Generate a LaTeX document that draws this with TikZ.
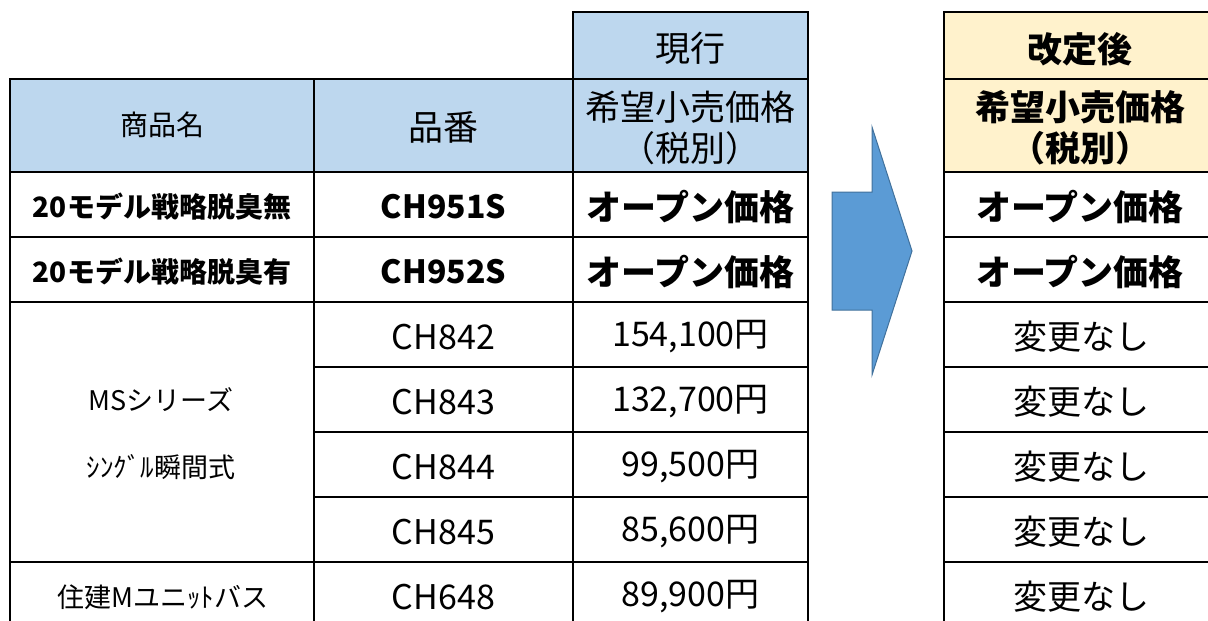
\documentclass[tikz,border=0pt]{standalone}
\usepackage{fontspec}
\setmainfont{Noto Sans CJK JP}
\definecolor{hdblue}{HTML}{BDD7EE}
\definecolor{hdyellow}{HTML}{FFF2CC}
\definecolor{arrowblue}{HTML}{5B9BD5}
\definecolor{arrowedge}{HTML}{41719C}
\tikzset{
  grid/.style={line width=2pt},
  txt/.style={inner sep=0pt},
  hdtxt/.style={txt, font=\fontsize{35}{40}\selectfont},
  valtxt/.style={txt, font=\fontsize{34}{40}\selectfont},
  nametxt/.style={txt, font=\fontsize{27}{32}\selectfont}
}
\begin{document}
\begin{tikzpicture}[x=1pt,y=-1pt]
    \useasboundingbox (0,0) rectangle (1208,621);
    \clip (0,0) rectangle (1208,621);

    % Header colours
    \fill[hdblue] (10,79) rectangle (808,172);
    \fill[hdblue] (573,12) rectangle (808,79);
    \fill[hdyellow] (944,12) rectangle (1240,172);

    % Left table lines
    \draw[grid] (573,12) rectangle (808,79);
    \draw[grid] (10,79) rectangle (808,650);
    \draw[grid] (314,79) -- (314,650);
    \draw[grid] (573,79) -- (573,650);
    \foreach \y in {172,237,302,562}
        \draw[grid] (10,\y) -- (808,\y);
    \foreach \y in {367,432,497}
        \draw[grid] (314,\y) -- (808,\y);

    % Right table lines
    \draw[grid] (944,12) rectangle (1240,650);
    \foreach \y in {79,172,237,302,367,432,497,562}
        \draw[grid] (944,\y) -- (1240,\y);

    % Arrow
    \draw[fill=arrowblue, draw=arrowedge, line width=1pt]
        (832,192) -- (872,192) -- (872,127) -- (912,251)
        -- (872,375) -- (872,310) -- (832,310) -- cycle;

    % Headers
    \node[hdtxt] (cur) at (690.5,48) {現行};
    \node[hdtxt, font=\fontsize{35}{40}\selectfont\bfseries] (new) at (1080,49) {改定後};
    \node[nametxt, font=\fontsize{28}{32}\selectfont] (hname) at (162,125) {商品名};
    \node[hdtxt] (hcode) at (443.5,127) {品番};
    \node[hdtxt] (hcur) at (690.5,107) {希望小売価格};
    \node[hdtxt] (hcurtax) at (690.5,148) {（税別）};
    \node[hdtxt, font=\fontsize{35}{40}\selectfont\bfseries] (hnew) at (1080,107) {希望小売価格};
    \node[hdtxt, font=\fontsize{35}{40}\selectfont\bfseries] (hnewtax) at (1080,148) {（税別）};

    % Open price rows
    \node[nametxt, font=\fontsize{28}{32}\selectfont\bfseries] (name1) at (162,207) {20モデル戦略脱臭無};
    \node[nametxt, font=\fontsize{28}{32}\selectfont\bfseries] (name2) at (162,272) {20モデル戦略脱臭有};
    \node[valtxt, font=\fontsize{32}{40}\selectfont\bfseries] (code1) at (443.5,207) {CH951S};
    \node[valtxt, font=\fontsize{32}{40}\selectfont\bfseries] (code2) at (443.5,272) {CH952S};
    \node[hdtxt, font=\fontsize{35}{40}\selectfont\bfseries] (price1) at (690.5,207) {オープン価格};
    \node[hdtxt, font=\fontsize{35}{40}\selectfont\bfseries] (price2) at (690.5,272) {オープン価格};
    \node[hdtxt, font=\fontsize{35}{40}\selectfont\bfseries] (newp1) at (1080,207) {オープン価格};
    \node[hdtxt, font=\fontsize{35}{40}\selectfont\bfseries] (newp2) at (1080,272) {オープン価格};

    % Series names
    \node[nametxt] (name3) at (161,400) {MSシリーズ};
    \node[nametxt] (name4) at (161,467.5) {ｼﾝｸﾞﾙ瞬間式};
    \node[nametxt] (name5) at (163,597.5) {住建Mユニｯﾄバス};

    % Priced rows
    \foreach \y/\code/\price [count=\i from 3] in
        {337/CH842/{154,100円}, 402/CH843/{132,700円}, 467/CH844/{99,500円},
         532/CH845/{85,600円}, 597/CH648/{89,900円}} {
        \node[valtxt] (code\i) at (443.5,\y) {\code};
        \node[valtxt] (price\i) at (690.5,\y) {\price};
        \node[valtxt] (newp\i) at (1081,\y) {変更なし};
    }
\end{tikzpicture}
\end{document}
